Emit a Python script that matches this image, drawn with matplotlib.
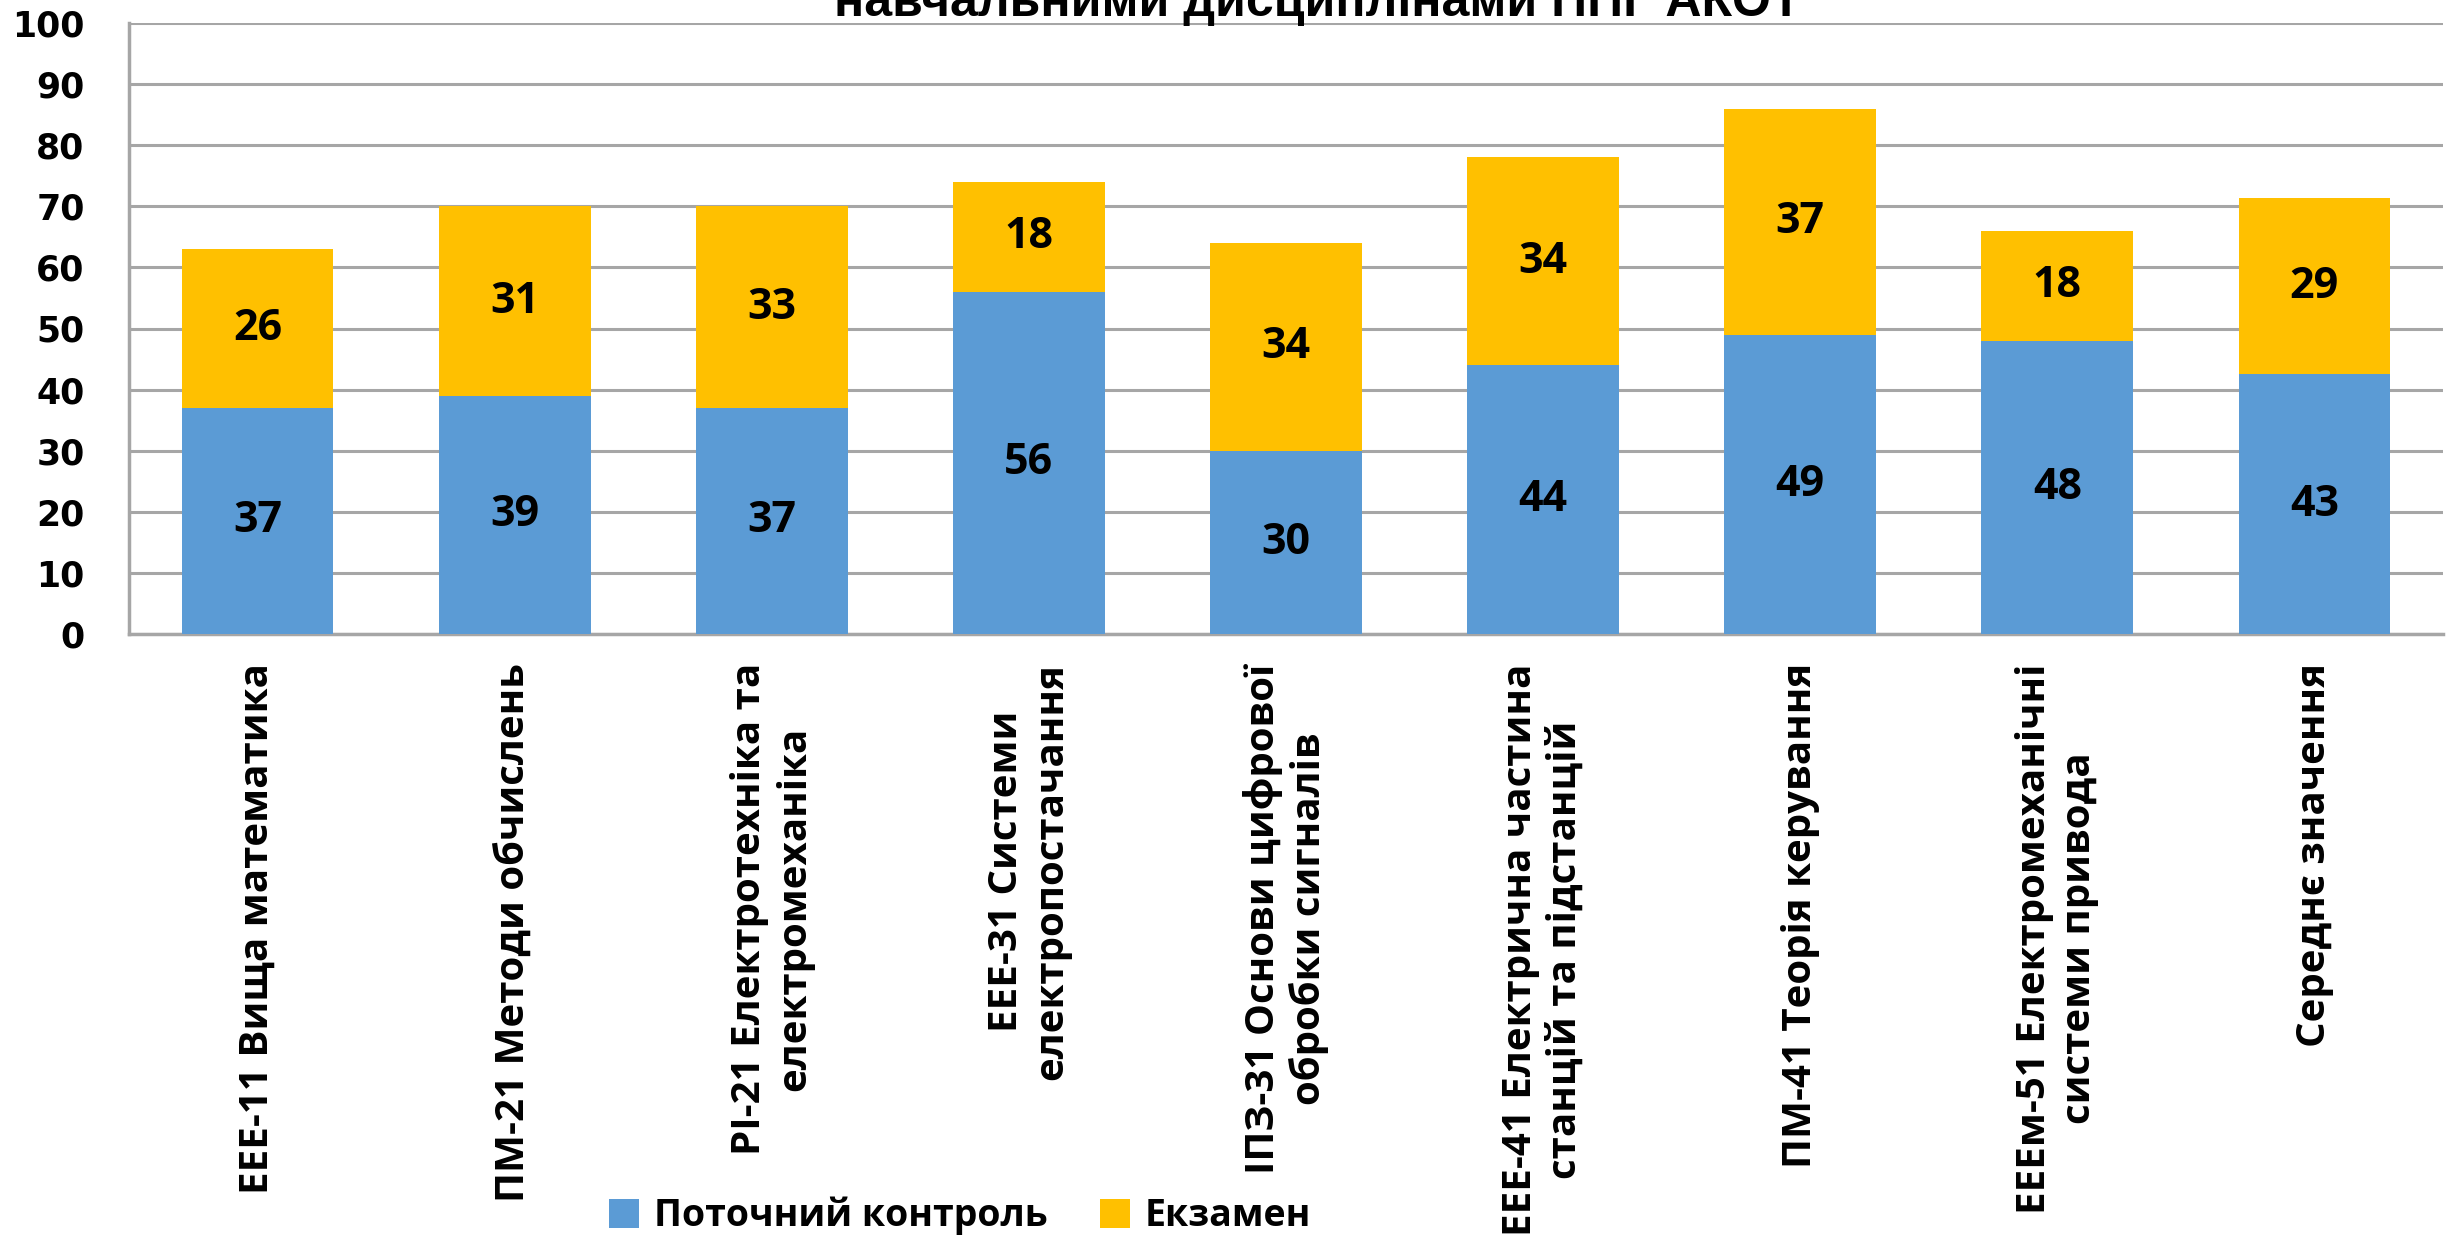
import matplotlib
matplotlib.use("Agg")
import matplotlib.pyplot as plt
import numpy as np
from matplotlib import font_manager as fm

categories = [
    "ЕЕЕ-11 Вища математика",
    "ПМ-21 Методи обчислень",
    "РІ-21 Електротехніка та\nелектромеханіка",
    "ЕЕЕ-31 Системи\nелектропостачання",
    "ІПЗ-31 Основи цифрової\nобробки сигналів",
    "ЕЕЕ-41 Електрична частина\nстанцій та підстанцій",
    "ПМ-41 Теорія керування",
    "ЕЕЕм-51 Електромеханічні\nсистеми привода",
    "Середнє значення",
]
current_control = [37, 39, 37, 56, 30, 44, 49, 48, 42.5]
exam = [26, 31, 33, 18, 34, 34, 37, 18, 28.9]
series_names = ["Поточний контроль", "Екзамен"]
title_text = "навчальними дисциплінами ППГ АКОТ"
yticks = [0, 10, 20, 30, 40, 50, 60, 70, 80, 90, 100]

BLUE = "#5B9BD5"
ORANGE = "#FFC000"
GRID = "#A6A6A6"

names = {f.name for f in fm.fontManager.ttflist}
label_font = "Open Sans" if "Open Sans" in names else "DejaVu Sans"
if "Liberation Sans Narrow" in names:
    title_font, title_size = "Liberation Sans Narrow", 44
else:
    title_font, title_size = "Liberation Sans", 36

fig = plt.figure(figsize=(24.53, 12.41), dpi=100)
ax = fig.add_axes([129 / 2453, 1 - 634 / 1241, (2443 - 129) / 2453, (634 - 23) / 1241])

x = np.arange(len(categories))
w = 0.59
b1 = ax.bar(x, current_control, w, color=BLUE, label=series_names[0], zorder=3)
b2 = ax.bar(x, exam, w, bottom=current_control, color=ORANGE, label=series_names[1], zorder=3)

for vals, bottoms in ((current_control, [0] * len(x)), (exam, current_control)):
    for xi, v, b in zip(x, vals, bottoms):
        ax.text(xi, b + v / 2, f"{int(v + 0.5)}", ha="center", va="center",
                fontsize=31, fontweight="bold", family=label_font, color="black", zorder=4)

ax.set_xlim(-0.5, len(x) - 0.5)
ax.set_ylim(0, 100)
ax.set_yticks(yticks)
ax.set_yticklabels([str(t) for t in yticks], fontsize=25, fontweight="bold", family="DejaVu Sans")
ax.tick_params(axis="y", length=0, pad=32)
ax.set_xticks(x)
ax.set_xticklabels(categories, rotation=90, fontsize=29, fontweight="bold", family=label_font,
                   ha="center", va="top", multialignment="center")
ax.tick_params(axis="x", length=0, pad=21)

ax.grid(axis="y", color=GRID, linewidth=2.2, zorder=0)
for s in ("top", "right"):
    ax.spines[s].set_visible(False)
for s in ("left", "bottom"):
    ax.spines[s].set_color(GRID)
    ax.spines[s].set_linewidth(2.5)

fig.text(1318 / 2453, 1 - 16 / 1241, title_text, ha="center", va="baseline",
         fontsize=title_size, fontweight="bold", family=title_font)

fig.legend(handles=[b1, b2], labels=series_names, loc="center",
           bbox_to_anchor=(960 / 2453, 1 - 1216 / 1241), ncol=2, frameon=False,
           prop={"family": label_font, "weight": "bold", "size": 27},
           handlelength=0.8, handleheight=0.8, handletextpad=0.4, columnspacing=1.4)

fig.savefig("out.png", dpi=100, facecolor="white")
